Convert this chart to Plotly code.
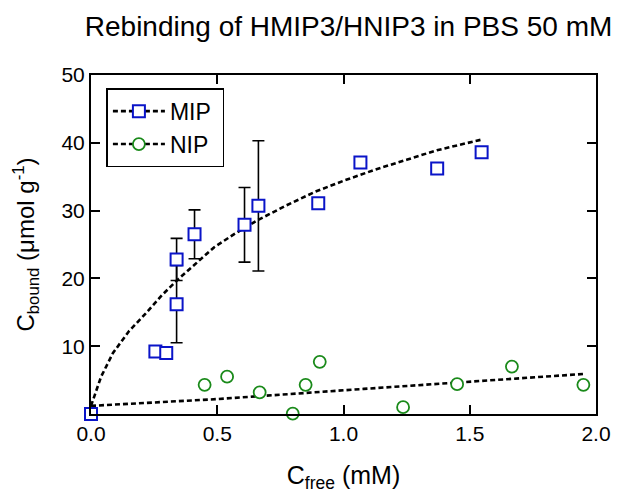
import plotly.graph_objects as go

# ---- data ----
mip_x = [0.0, 0.255, 0.298, 0.339, 0.339, 0.410, 0.608, 0.663, 0.900, 1.067, 1.371, 1.547]
mip_y = [0.0, 9.2, 9.0, 16.2, 22.8, 26.5, 27.9, 30.7, 31.1, 37.1, 36.2, 38.6]
mip_err = [0, 0, 0, 5.7, 3.1, 3.6, 5.5, 9.6, 0, 0, 0, 0]

nip_x = [0.450, 0.539, 0.668, 0.799, 0.850, 0.906, 1.236, 1.450, 1.667, 1.950]
nip_y = [4.3, 5.5, 3.2, 0.05, 4.3, 7.7, 1.0, 4.4, 7.0, 4.3]

mip_fit_x = [0.0, 0.04, 0.087, 0.15, 0.216, 0.28, 0.346, 0.42, 0.488, 0.57, 0.656,
             0.77, 0.889, 1.0, 1.122, 1.25, 1.37, 1.46, 1.55]
mip_fit_y = [1.2, 5.5, 9.0, 12.2, 14.8, 17.5, 19.9, 22.4, 24.6, 26.6, 28.5,
             30.7, 32.8, 34.4, 36.0, 37.5, 38.9, 39.7, 40.5]

nip_fit_x = [0.0, 0.5, 1.08, 1.5, 1.95]
nip_fit_y = [1.2, 2.2, 3.7, 4.8, 5.9]

x_ticks = [0.0, 0.5, 1.0, 1.5, 2.0]
x_ticktext = ["0.0", "0.5", "1.0", "1.5", "2.0"]
y_ticks = [10, 20, 30, 40, 50]
y_ticktext = ["10", "20", "30", "40", "50"]

series_names = ["MIP", "NIP"]

BLUE = "#0a14c8"
GREEN = "#1a8a1a"
FONT = "Arial, Liberation Sans, sans-serif"
dash = "5px,3px"

fig = go.Figure()

# fit curves
fig.add_trace(go.Scatter(x=mip_fit_x, y=mip_fit_y, mode="lines",
                         line=dict(color="black", width=2.6, dash=dash),
                         showlegend=False, hoverinfo="skip"))
fig.add_trace(go.Scatter(x=nip_fit_x, y=nip_fit_y, mode="lines",
                         line=dict(color="black", width=2.6, dash=dash),
                         showlegend=False, hoverinfo="skip"))

# data
fig.add_trace(go.Scatter(x=mip_x, y=mip_y, mode="markers", showlegend=False,
                         marker=dict(symbol="square", size=12, color="white",
                                     line=dict(color=BLUE, width=2)),
                         error_y=dict(type="data", array=mip_err, color="black",
                                      thickness=1.6, width=6),
                         cliponaxis=False))
fig.add_trace(go.Scatter(x=nip_x, y=nip_y, mode="markers", showlegend=False,
                         marker=dict(symbol="circle", size=12, color="white",
                                     line=dict(color=GREEN, width=1.8)),
                         cliponaxis=False))

# legend entries
fig.add_trace(go.Scatter(x=[None], y=[None], mode="lines+markers",
                         name=series_names[0] + "&nbsp;",
                         line=dict(color="black", width=2.6, dash=dash),
                         marker=dict(symbol="square", size=12, color="white",
                                     line=dict(color=BLUE, width=2))))
fig.add_trace(go.Scatter(x=[None], y=[None], mode="lines+markers",
                         name=series_names[1] + "&nbsp;",
                         line=dict(color="black", width=2.6, dash=dash),
                         marker=dict(symbol="circle", size=12, color="white",
                                     line=dict(color=GREEN, width=1.8))))

axis_common = dict(showline=True, linecolor="black", linewidth=2, mirror="ticks",
                   ticks="inside", ticklen=9, tickwidth=2, tickcolor="black",
                   showgrid=False, zeroline=False,
                   tickfont=dict(family=FONT, size=21, color="black"))

fig.update_xaxes(range=[0, 2], tickvals=x_ticks, ticktext=x_ticktext,
                 title=dict(text="C<sub>free</sub> (mM)",
                            font=dict(family=FONT, size=25, color="black"),
                            standoff=22),
                 **axis_common)
fig.update_yaxes(range=[0, 50], tickvals=y_ticks, ticktext=y_ticktext,
                 title=dict(text="C<sub>bound</sub> (μmol g<sup>-1</sup>)",
                            font=dict(family=FONT, size=24, color="black"),
                            standoff=20),
                 **axis_common)

fig.update_layout(
    width=623, height=497,
    margin=dict(l=91, r=17, t=75, b=78, pad=0),
    paper_bgcolor="white", plot_bgcolor="white",
    title=dict(text="Rebinding of HMIP3/HNIP3 in PBS 50 mM",
               font=dict(family=FONT, size=28, color="black"),
               x=0.51, xref="paper", xanchor="center",
               y=1 - 26 / 497, yref="container", yanchor="middle"),
    legend=dict(x=0.0305, y=0.961, xanchor="left", yanchor="top",
                bgcolor="white", bordercolor="black", borderwidth=1.5,
                font=dict(family=FONT, size=23, color="black"),
                tracegroupgap=0, itemwidth=52),
    showlegend=True,
)

fig.write_html("out.html")
